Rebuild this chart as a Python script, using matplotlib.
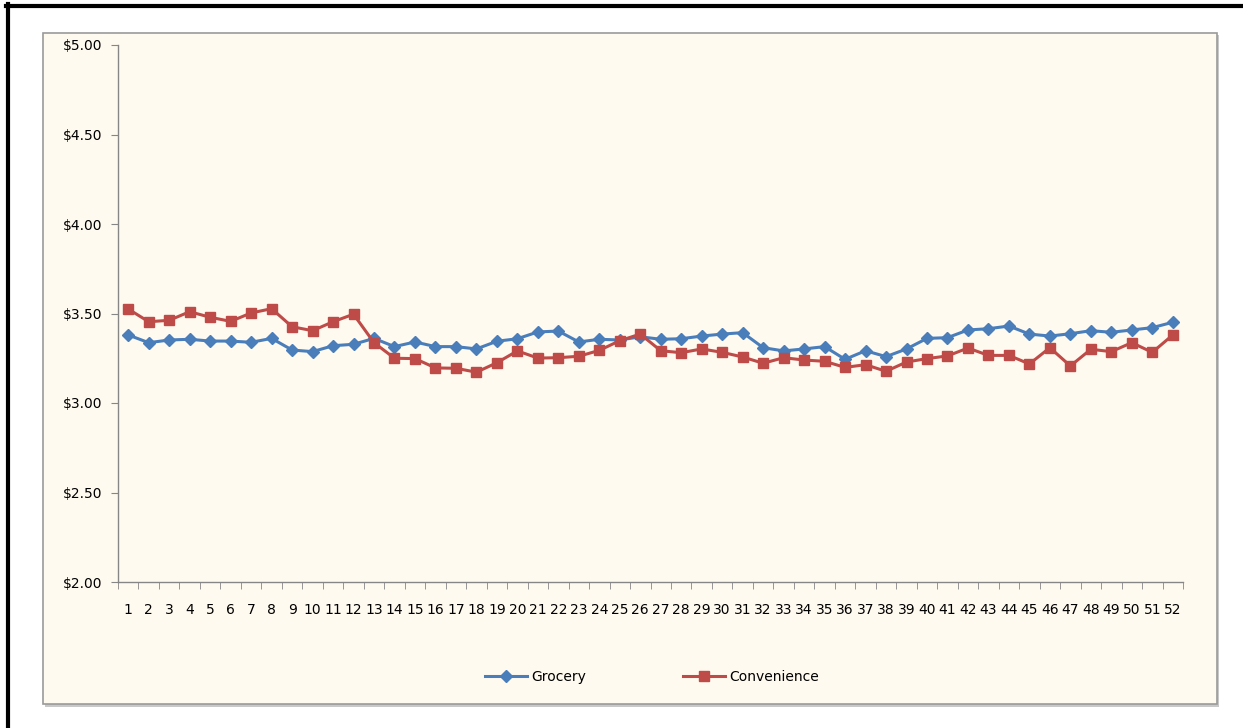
import numpy as np
import matplotlib
matplotlib.use('Agg')
import matplotlib.pyplot as plt
from matplotlib.patches import Rectangle
from matplotlib.lines import Line2D
from matplotlib.ticker import FuncFormatter

# ---- data (weekly prices) ----
weeks = list(range(1, 53))
grocery = [3.380, 3.337, 3.352, 3.356, 3.346, 3.346, 3.339, 3.361, 3.296, 3.287,
           3.320, 3.328, 3.361, 3.315, 3.341, 3.315, 3.315, 3.302, 3.345, 3.359,
           3.397, 3.402, 3.341, 3.356, 3.352, 3.370, 3.356, 3.359, 3.374, 3.385,
           3.393, 3.309, 3.291, 3.302, 3.315, 3.244, 3.292, 3.259, 3.302, 3.361,
           3.365, 3.408, 3.415, 3.430, 3.385, 3.374, 3.387, 3.404, 3.395, 3.408,
           3.421, 3.451]
convenience = [3.525, 3.454, 3.462, 3.510, 3.479, 3.456, 3.503, 3.527, 3.426, 3.404,
               3.454, 3.496, 3.337, 3.250, 3.248, 3.196, 3.194, 3.172, 3.225, 3.291,
               3.251, 3.253, 3.261, 3.294, 3.348, 3.385, 3.292, 3.281, 3.302, 3.283,
               3.257, 3.222, 3.253, 3.240, 3.233, 3.199, 3.214, 3.177, 3.229, 3.248,
               3.263, 3.307, 3.266, 3.266, 3.218, 3.309, 3.207, 3.300, 3.287, 3.337,
               3.283, 3.380]
y_ticks = [2.0, 2.5, 3.0, 3.5, 4.0, 4.5, 5.0]

W, H = 1243, 728
BG = '#FFFAEF'
BLUE = '#4A7EBB'
RED = '#BE4B48'

fig = plt.figure(figsize=(W / 100, H / 100), dpi=100)
fig.patch.set_facecolor('white')

# chart box with shadow (behind the axes)
fig.patches.append(Rectangle((45 / W, 1 - 707 / H), (1219 - 45) / W, (707 - 35) / H,
                             transform=fig.transFigure, facecolor='#C8C8C8',
                             edgecolor='none', zorder=-2))
fig.patches.append(Rectangle((43 / W, 1 - 704 / H), (1217 - 43) / W, (704 - 33) / H,
                             transform=fig.transFigure, facecolor=BG,
                             edgecolor='#9A9A9A', linewidth=1.2, zorder=-1))

# black frame lines (top / left)
fig.lines.append(Line2D([6 / W, 1], [1 - 6 / H, 1 - 6 / H], transform=fig.transFigure,
                        color='black', linewidth=3.0))
fig.lines.append(Line2D([8 / W, 8 / W], [0, 1 - 4 / H], transform=fig.transFigure,
                        color='black', linewidth=3.0))

ax = fig.add_axes([118 / W, 1 - 582 / H, (1183 - 118) / W, (582 - 45) / H])
ax.set_facecolor('none')
ax.plot(weeks, grocery, color=BLUE, linewidth=2.2, marker='D', markersize=6.5,
        label='Grocery', zorder=3)
ax.plot(weeks, convenience, color=RED, linewidth=2.2, marker='s', markersize=7,
        label='Convenience', zorder=3)

ax.set_xlim(0.5, 52.5)
ax.set_ylim(2.0, 5.0)
ax.set_yticks(y_ticks)
ax.yaxis.set_major_formatter(FuncFormatter(lambda v, p: f'${v:.2f}'))
ax.set_xticks(weeks)
ax.set_xticks(np.arange(0.5, 53, 1), minor=True)
ax.tick_params(axis='x', which='major', length=0, pad=15, labelsize=10,
               colors='black')
ax.tick_params(axis='x', which='minor', length=5, color='#868686', direction='out')
ax.tick_params(axis='y', length=5, color='#868686', labelsize=10, pad=6)
for s in ['top', 'right']:
    ax.spines[s].set_visible(False)
for s in ['left', 'bottom']:
    ax.spines[s].set_color('#868686')
    ax.spines[s].set_linewidth(1.0)

fig.legend(loc='center', bbox_to_anchor=(652 / W, 1 - 677 / H), ncol=2,
           frameon=False, fontsize=10, columnspacing=7.0, handlelength=3,
           handletextpad=0.3)

fig.savefig('out.png', dpi=100)
